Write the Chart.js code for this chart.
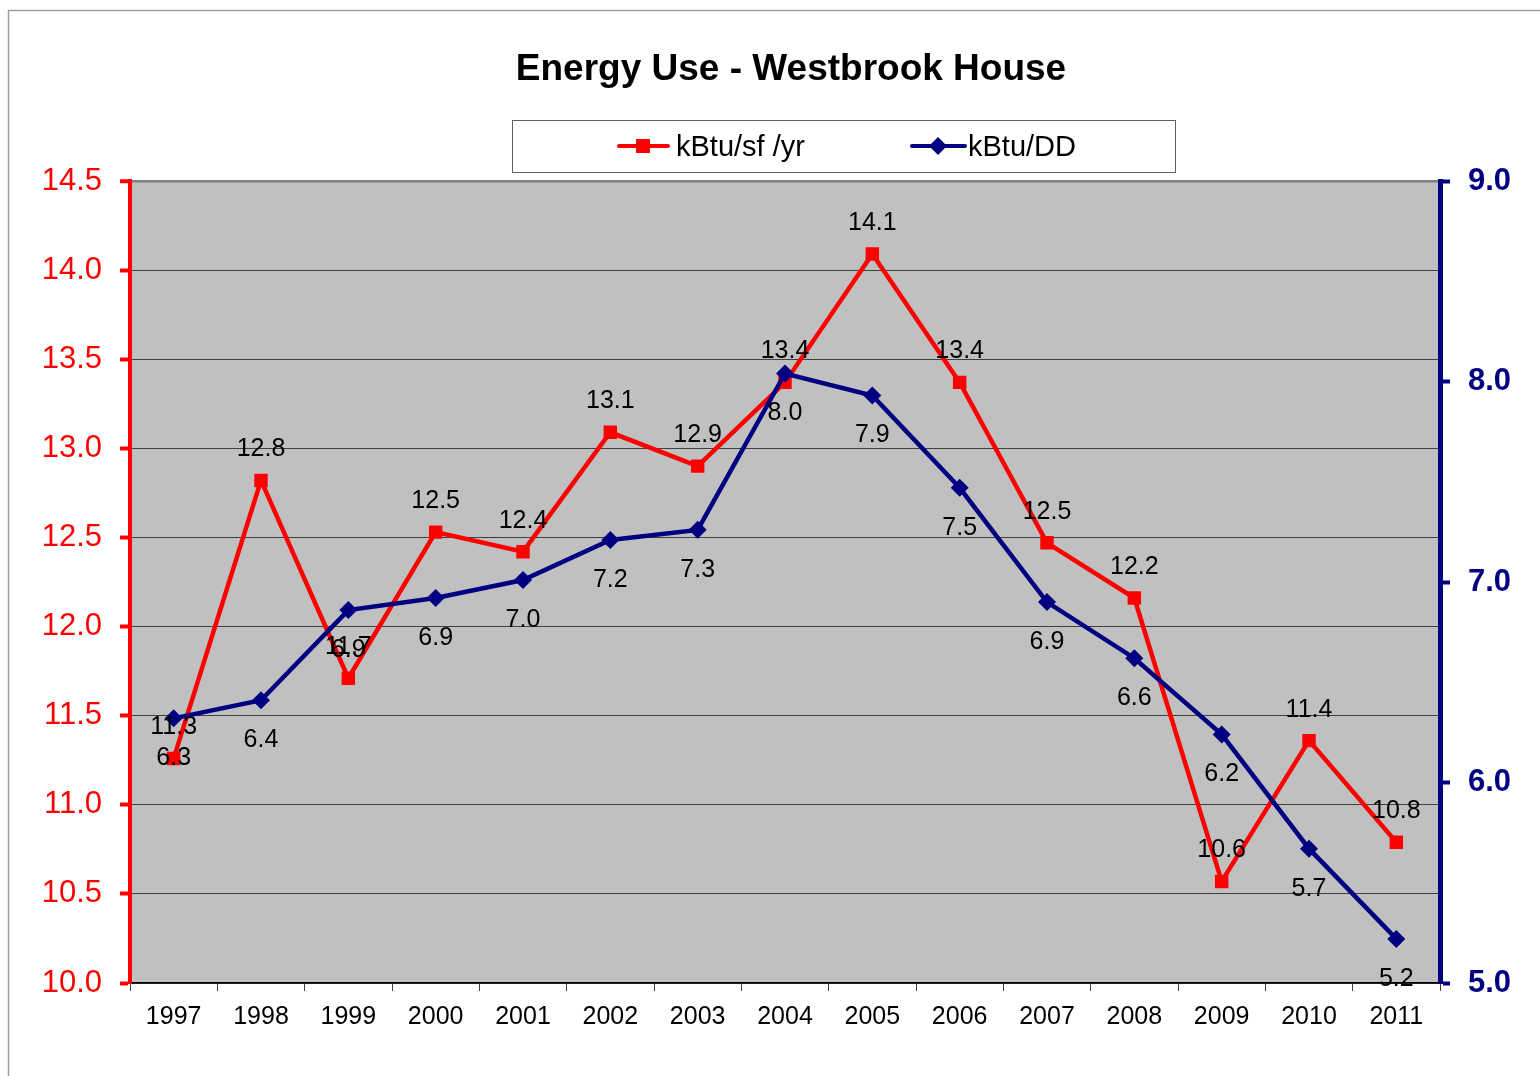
<!DOCTYPE html>
<html>
<head>
<meta charset="utf-8">
<script src="https://cdn.jsdelivr.net/npm/chart.js@4.4.0/dist/chart.umd.min.js"></script>
<style>
  html, body { margin: 0; padding: 0; background: #fff; }
  #wrap { width: 1540px; height: 1076px; position: relative; }
</style>
</head>
<body>
<div id="wrap"><canvas id="energyChart" width="1540" height="1076"></canvas></div>
<script>
const years = ['1997','1998','1999','2000','2001','2002','2003','2004','2005','2006','2007','2008','2009','2010','2011'];
const kbtuSf = [11.26, 12.82, 11.71, 12.53, 12.42, 13.09, 12.90, 13.37, 14.09, 13.37, 12.47, 12.16, 10.57, 11.36, 10.79];
const kbtuDD = [6.32, 6.41, 6.86, 6.92, 7.01, 7.21, 7.26, 8.04, 7.93, 7.47, 6.90, 6.62, 6.24, 5.67, 5.22];
const seriesNames = ['kBtu/sf /yr', 'kBtu/DD'];
const chartTitle = 'Energy Use - Westbrook House';

const FONT = '"Liberation Sans", Arial, sans-serif';
const RED = '#ff0000';
const NAVY = '#000080';

// background, plot fill, title and boxed legend
const decorPlugin = {
    id: 'decor',
    beforeDraw(chart){
        const c = chart.ctx, a = chart.chartArea;
        c.save();
        c.fillStyle = '#fff';
        c.fillRect(0, 0, chart.width, chart.height);
        c.strokeStyle = '#a0a0a0';
        c.lineWidth = 1.5;
        c.beginPath();
        c.moveTo(8.5, chart.height);
        c.lineTo(8.5, 10.5);
        c.lineTo(chart.width, 10.5);
        c.stroke();
        c.fillStyle = '#c0c0c0';
        c.fillRect(a.left, a.top, a.right - a.left, a.bottom - a.top);
        c.restore();
    },
    afterDraw(chart){
        const c = chart.ctx;
        c.save();
        c.fillStyle = '#000';
        c.font = 'bold 37px ' + FONT;
        c.textAlign = 'center';
        c.textBaseline = 'middle';
        c.fillText(chartTitle, 791, 70);

        // legend box
        c.fillStyle = '#fff';
        c.fillRect(512, 120, 663, 52);
        c.strokeStyle = '#606060';
        c.lineWidth = 1;
        c.strokeRect(512.5, 120.5, 663, 52);

        c.lineWidth = 4;
        c.lineCap = 'round';
        c.strokeStyle = RED;
        c.beginPath(); c.moveTo(619, 146); c.lineTo(668, 146); c.stroke();
        c.fillStyle = RED;
        c.fillRect(636, 139, 14, 14);

        c.strokeStyle = NAVY;
        c.beginPath(); c.moveTo(912, 146); c.lineTo(965, 146); c.stroke();
        c.fillStyle = NAVY;
        c.beginPath();
        c.moveTo(938, 137); c.lineTo(947, 146); c.lineTo(938, 155); c.lineTo(929, 146);
        c.closePath(); c.fill();

        c.fillStyle = '#000';
        c.font = '29px ' + FONT;
        c.textAlign = 'left';
        c.fillText(seriesNames[0], 676, 148);
        c.fillText(seriesNames[1], 968, 148);
        c.restore();
    }
};

// value labels: red above its points, navy below
const valueLabels = {
    id: 'valueLabels',
    afterDatasetsDraw(chart){
        const c = chart.ctx;
        c.save();
        c.font = '25px ' + FONT;
        c.fillStyle = '#000';
        c.textAlign = 'center';
        c.textBaseline = 'middle';
        chart.data.datasets.forEach((ds, i) => {
            const meta = chart.getDatasetMeta(i);
            const dy = i === 0 ? -31 : 40;
            meta.data.forEach((pt, j) => {
                c.fillText(ds.data[j].toFixed(1), pt.x, pt.y + dy);
            });
        });
        c.restore();
    }
};

const ctx = document.getElementById('energyChart').getContext('2d');
new Chart(ctx, {
    type: 'line',
    data: {
        labels: years,
        datasets: [{
            label: seriesNames[0],
            data: kbtuSf,
            yAxisID: 'y',
            borderColor: RED,
            backgroundColor: RED,
            borderWidth: 4.5,
            pointStyle: 'rect',
            pointRadius: 9.5,
            pointHoverRadius: 9.5,
            pointBorderWidth: 0,
            tension: 0,
            order: 2
        },{
            label: seriesNames[1],
            data: kbtuDD,
            yAxisID: 'y2',
            borderColor: NAVY,
            backgroundColor: NAVY,
            borderWidth: 4.5,
            pointStyle: 'rectRot',
            pointRadius: 9,
            pointHoverRadius: 9,
            pointBorderWidth: 0,
            tension: 0,
            order: 1
        }]
    },
    options: {
        responsive: false,
        animation: false,
        layout: { padding: { top: 181, left: 0, right: 0, bottom: 0 } },
        plugins: {
            legend: { display: false },
            title: { display: false },
            tooltip: { enabled: false }
        },
        scales: {
            x: {
                offset: true,
                grid: {
                    offset: true,
                    drawOnChartArea: false,
                    tickLength: 8,
                    color: '#404040',
                    tickColor: '#404040'
                },
                border: { color: '#000', width: 1.5 },
                ticks: {
                    color: '#000',
                    font: { family: FONT, size: 25 },
                    padding: 11,
                    maxRotation: 0,
                    autoSkip: false
                },
                afterFit(s){ s.height = 93; }
            },
            y: {
                position: 'left',
                min: 10,
                max: 14.5,
                ticks: {
                    stepSize: 0.5,
                    color: RED,
                    font: { family: FONT, size: 31 },
                    padding: 18,
                    callback: v => v.toFixed(1)
                },
                grid: {
                    color: c => c.tick && c.tick.value === 14.5 ? '#808080' : '#404040',
                    lineWidth: c => c.tick && c.tick.value === 14.5 ? 2.5 : 1,
                    tickColor: RED,
                    tickWidth: 4,
                    tickLength: 10
                },
                border: { color: RED, width: 4 },
                afterFit(s){ s.width = 130; }
            },
            y2: {
                position: 'right',
                min: 5,
                max: 9,
                ticks: {
                    stepSize: 1,
                    color: NAVY,
                    font: { family: FONT, size: 31, weight: 'bold' },
                    padding: 18,
                    callback: v => v.toFixed(1)
                },
                grid: {
                    drawOnChartArea: false,
                    tickColor: NAVY,
                    tickWidth: 4,
                    tickLength: 10
                },
                border: { color: NAVY, width: 5 },
                afterFit(s){ s.width = 100; }
            }
        }
    },
    plugins: [decorPlugin, valueLabels]
});
</script>
</body>
</html>
